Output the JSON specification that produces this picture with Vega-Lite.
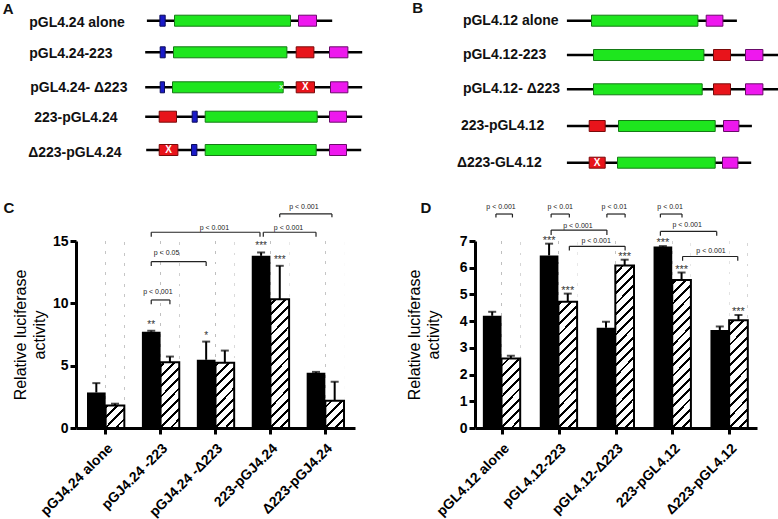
{
  "$schema": "https://vega.github.io/schema/vega-lite/v6.json",
  "padding": {"left": 2, "top": 0, "right": 0, "bottom": 0},
  "background": "white",
  "config": {"view": {"stroke": null}, "font": "Liberation Sans", "axis": {"grid": false, "labelOverlap": false}},
  "datasets": {
    "dlines": [
      {"x1": 145.7, "x2": 331, "y": 20.7}, {"x1": 144, "x2": 361, "y": 52.3}, {"x1": 144, "x2": 361, "y": 87.3},
      {"x1": 144, "x2": 361, "y": 116.7}, {"x1": 145, "x2": 360, "y": 150},
      {"x1": 565.7, "x2": 735.7, "y": 20.7}, {"x1": 565.7, "x2": 777, "y": 55}, {"x1": 565.7, "x2": 777, "y": 89.3},
      {"x1": 565.7, "x2": 750.7, "y": 126}, {"x1": 565.7, "x2": 750, "y": 162.7}
    ],
    "dboxes": [
      {"part": "blue", "x1": 158.7, "x2": 164, "y": 20.7}, {"part": "green", "x1": 173.3, "x2": 289.3, "y": 20.7}, {"part": "magenta", "x1": 297.3, "x2": 315.3, "y": 20.7},
      {"part": "blue", "x1": 159, "x2": 164, "y": 52.3}, {"part": "green", "x1": 172.3, "x2": 285.7, "y": 52.3}, {"part": "red", "x1": 295, "x2": 312.7, "y": 52.3}, {"part": "magenta", "x1": 328.3, "x2": 346.7, "y": 52.3},
      {"part": "blue", "x1": 159, "x2": 163.3, "y": 87.3}, {"part": "green", "x1": 171.3, "x2": 282, "y": 87.3}, {"part": "red", "x1": 295, "x2": 313.3, "y": 87.3}, {"part": "magenta", "x1": 329.3, "x2": 346.7, "y": 87.3},
      {"part": "red", "x1": 158, "x2": 175.3, "y": 116.7}, {"part": "blue", "x1": 191, "x2": 196, "y": 116.7}, {"part": "green", "x1": 204, "x2": 316, "y": 116.7}, {"part": "magenta", "x1": 328.3, "x2": 345.3, "y": 116.7},
      {"part": "red", "x1": 158, "x2": 176.7, "y": 150}, {"part": "blue", "x1": 190.3, "x2": 195.7, "y": 150}, {"part": "green", "x1": 204, "x2": 315, "y": 150}, {"part": "magenta", "x1": 328.3, "x2": 345.3, "y": 150},
      {"part": "green", "x1": 590.3, "x2": 696.7, "y": 20.7}, {"part": "magenta", "x1": 705, "x2": 721.7, "y": 20.7},
      {"part": "green", "x1": 592.3, "x2": 702.7, "y": 55}, {"part": "red", "x1": 712.3, "x2": 729.3, "y": 55}, {"part": "magenta", "x1": 744.3, "x2": 761.7, "y": 55},
      {"part": "green", "x1": 592.3, "x2": 701, "y": 89.3}, {"part": "red", "x1": 712.3, "x2": 729.3, "y": 89.3}, {"part": "magenta", "x1": 744.3, "x2": 761.7, "y": 89.3},
      {"part": "red", "x1": 588, "x2": 604, "y": 126}, {"part": "green", "x1": 617.3, "x2": 714, "y": 126}, {"part": "magenta", "x1": 722.3, "x2": 737.7, "y": 126},
      {"part": "red", "x1": 588, "x2": 604, "y": 162.7}, {"part": "green", "x1": 616.3, "x2": 714, "y": 162.7}, {"part": "magenta", "x1": 721.3, "x2": 736.7, "y": 162.7}
    ],
    "dlabels": [
      {"t": "pGL4.24 alone", "x": 28, "y": 22.7}, {"t": "pGL4.24-223", "x": 28, "y": 54.3}, {"t": "pGL4.24- Δ223", "x": 29, "y": 88.3},
      {"t": "223-pGL4.24", "x": 33, "y": 118.3}, {"t": "Δ223-pGL4.24", "x": 27, "y": 153.3},
      {"t": "pGL4.12 alone", "x": 461.7, "y": 20.7}, {"t": "pGL4.12-223", "x": 461.7, "y": 55}, {"t": "pGL4.12- Δ223", "x": 461.7, "y": 89.3},
      {"t": "223-pGL4.12", "x": 459.7, "y": 126}, {"t": "Δ223-GL4.12", "x": 455.7, "y": 162.7}
    ],
    "dletters": [{"t": "A", "x": 7, "y": 9}, {"t": "B", "x": 416.5, "y": 8}],
    "dmarks": [{"t": "X", "x": 304.2, "y": 87.3}, {"t": "X", "x": 167.4, "y": 150}, {"t": "X", "x": 596, "y": 162.7}],
    "dsmall": [{"t": "x", "x": 280, "y": 87.3}],
    "cbars": [
      {"cond": "pGJ4.24 alone", "type": "black", "mean": 2.85, "err": 3.6},
      {"cond": "pGJ4.24 alone", "type": "hatched", "mean": 1.8, "err": 1.95},
      {"cond": "pGJ4.24 -223", "type": "black", "mean": 7.73, "err": 7.8, "sig": "**"},
      {"cond": "pGJ4.24 -223", "type": "hatched", "mean": 5.28, "err": 5.73},
      {"cond": "pGJ4.24 -Δ223", "type": "black", "mean": 5.47, "err": 6.93, "sig": "*"},
      {"cond": "pGJ4.24 -Δ223", "type": "hatched", "mean": 5.23, "err": 6.21},
      {"cond": "223-pGJ4.24", "type": "black", "mean": 13.81, "err": 14.08, "sig": "***"},
      {"cond": "223-pGJ4.24", "type": "hatched", "mean": 10.32, "err": 13.01, "sig": "***"},
      {"cond": "Δ223-pGJ4.24", "type": "black", "mean": 4.43, "err": 4.5},
      {"cond": "Δ223-pGJ4.24", "type": "hatched", "mean": 2.19, "err": 3.71}
    ],
    "cbr": [
      {"x1": 1.83, "x2": 2.17, "y": 10.27, "leg": 9.92, "label": "p < 0.001", "lx": 1.95, "ly": 10.91},
      {"x1": 1.83, "x2": 2.83, "y": 13.34, "leg": 12.99, "label": "p < 0.05", "lx": 2.11, "ly": 14.01},
      {"x1": 1.83, "x2": 3.81, "y": 15.7, "leg": 15.34, "label": "p < 0.001", "lx": 2.98, "ly": 16.02},
      {"x1": 3.87, "x2": 4.83, "y": 15.7, "leg": 15.34, "label": "p < 0.001", "lx": 4.33, "ly": 16.02},
      {"x1": 4.17, "x2": 5.12, "y": 17.17, "leg": 16.9, "label": "p < 0.001", "lx": 4.61, "ly": 17.75}
    ],
    "dbars": [
      {"cond": "pGL4.12 alone", "type": "black", "mean": 4.2, "err": 4.35},
      {"cond": "pGL4.12 alone", "type": "hatched", "mean": 2.6, "err": 2.7},
      {"cond": "pGL4.12-223", "type": "black", "mean": 6.46, "err": 6.9, "sig": "***"},
      {"cond": "pGL4.12-223", "type": "hatched", "mean": 4.73, "err": 5.03, "sig": "***"},
      {"cond": "pGL4.12-Δ223", "type": "black", "mean": 3.75, "err": 3.98},
      {"cond": "pGL4.12-Δ223", "type": "hatched", "mean": 6.08, "err": 6.3, "sig": "***"},
      {"cond": "223-pGL4.12", "type": "black", "mean": 6.79, "err": 6.81, "sig": "***"},
      {"cond": "223-pGL4.12", "type": "hatched", "mean": 5.54, "err": 5.82, "sig": "***"},
      {"cond": "Δ223-pGL4.12", "type": "black", "mean": 3.67, "err": 3.8},
      {"cond": "Δ223-pGL4.12", "type": "hatched", "mean": 4.03, "err": 4.23, "sig": "***"}
    ],
    "dbr": [
      {"x1": 0.89, "x2": 1.18, "y": 8.01, "leg": 7.88, "label": "p < 0.001", "lx": 0.98, "ly": 8.26},
      {"x1": 1.86, "x2": 2.18, "y": 8.01, "leg": 7.88, "label": "p < 0.01", "lx": 2.02, "ly": 8.26},
      {"x1": 2.84, "x2": 3.16, "y": 8.01, "leg": 7.88, "label": "p < 0.01", "lx": 2.97, "ly": 8.26},
      {"x1": 3.78, "x2": 4.16, "y": 8.01, "leg": 7.88, "label": "p < 0.01", "lx": 3.95, "ly": 8.26},
      {"x1": 1.86, "x2": 2.84, "y": 7.41, "leg": 7.22, "label": "p < 0.001", "lx": 2.33, "ly": 7.57},
      {"x1": 2.18, "x2": 3.16, "y": 6.8, "leg": 6.64, "label": "p < 0.001", "lx": 2.65, "ly": 6.99},
      {"x1": 3.78, "x2": 4.77, "y": 7.36, "leg": 7.2, "label": "p < 0.001", "lx": 4.25, "ly": 7.6},
      {"x1": 4.17, "x2": 5.14, "y": 6.42, "leg": 6.26, "label": "p < 0.001", "lx": 4.67, "ly": 6.64}
    ]
  },
  "spacing": 0,
  "vconcat": [
    {
      "width": 703,
      "height": 200,
      "layer": [
        {
          "data": {"name": "dlines"},
          "mark": {"type": "rule", "strokeWidth": 2.5, "color": "black"},
          "encoding": {
            "x": {"field": "x1", "type": "quantitative", "scale": {"domain": [74.8, 777.8], "nice": false, "zero": false}, "axis": null},
            "x2": {"field": "x2"},
            "y": {"field": "y", "type": "quantitative", "scale": {"domain": [0, 200], "reverse": true, "nice": false, "zero": false}, "axis": null}
          }
        },
        {
          "data": {"name": "dboxes"},
          "mark": {"type": "rect", "height": 11, "strokeWidth": 1},
          "encoding": {
            "x": {"field": "x1", "type": "quantitative", "axis": null},
            "x2": {"field": "x2"},
            "y": {"field": "y", "type": "quantitative", "axis": null},
            "fill": {"field": "part", "type": "nominal", "legend": null, "scale": {"domain": ["blue", "green", "red", "magenta"], "range": ["#1a1ac8", "#1ee61e", "#e8141b", "#ee18ee"]}},
            "stroke": {"field": "part", "type": "nominal", "legend": null, "scale": {"domain": ["blue", "green", "red", "magenta"], "range": ["#0a0a5a", "#157a15", "#7a0a0a", "#6a0a6a"]}}
          }
        },
        {
          "data": {"name": "dlabels"},
          "mark": {"type": "text", "align": "left", "baseline": "middle", "fontSize": 14, "fontWeight": "bold", "color": "#111"},
          "encoding": {"x": {"field": "x", "type": "quantitative", "axis": null}, "y": {"field": "y", "type": "quantitative", "axis": null}, "text": {"field": "t"}}
        },
        {
          "data": {"name": "dletters"},
          "mark": {"type": "text", "align": "center", "baseline": "middle", "fontSize": 15, "fontWeight": "bold", "color": "#111"},
          "encoding": {"x": {"field": "x", "type": "quantitative", "axis": null}, "y": {"field": "y", "type": "quantitative", "axis": null}, "text": {"field": "t"}}
        },
        {
          "data": {"name": "dmarks"},
          "mark": {"type": "text", "align": "center", "baseline": "middle", "fontSize": 10, "fontWeight": "bold", "color": "white"},
          "encoding": {"x": {"field": "x", "type": "quantitative", "axis": null}, "y": {"field": "y", "type": "quantitative", "axis": null}, "text": {"field": "t"}}
        },
        {
          "data": {"name": "dsmall"},
          "mark": {"type": "text", "align": "center", "baseline": "middle", "fontSize": 8, "color": "white"},
          "encoding": {"x": {"field": "x", "type": "quantitative", "axis": null}, "y": {"field": "y", "type": "quantitative", "axis": null}, "text": {"field": "t"}}
        }
      ]
    },
    {
      "spacing": 51,
      "hconcat": [
        {
          "width": 279,
          "height": 187,
          "layer": [
            {
              "data": {"name": "cbars"},
              "encoding": {
                "x": {"field": "cond", "type": "nominal", "sort": null, "scale": {"paddingInner": 0.32, "paddingOuter": 0.2},
                  "axis": {"title": null, "labelAngle": -45, "labelFontSize": 14, "labelFontWeight": "bold", "labelPadding": 7, "labelLimit": 300, "tickSize": 6, "tickWidth": 3, "domainWidth": 3, "domainColor": "black", "tickColor": "black", "labelColor": "black"}},
                "xOffset": {"field": "type", "type": "nominal", "scale": {"domain": ["black", "hatched"]}}
              },
              "layer": [
                {
                  "transform": [{"filter": "datum.type === 'hatched'"}],
                  "mark": {"type": "bar", "fill": {"gradient": "linear", "x1": 0, "y1": 0, "x2": 0.1108, "y2": 1.0903, "stops": [
                    {"offset": 0, "color": "black"}, {"offset": 0.014, "color": "black"}, {"offset": 0.014, "color": "white"}, {"offset": 0.05, "color": "white"},
                    {"offset": 0.05, "color": "black"}, {"offset": 0.064, "color": "black"}, {"offset": 0.064, "color": "white"}, {"offset": 0.1, "color": "white"},
                    {"offset": 0.1, "color": "black"}, {"offset": 0.114, "color": "black"}, {"offset": 0.114, "color": "white"}, {"offset": 0.15, "color": "white"},
                    {"offset": 0.15, "color": "black"}, {"offset": 0.164, "color": "black"}, {"offset": 0.164, "color": "white"}, {"offset": 0.2, "color": "white"},
                    {"offset": 0.2, "color": "black"}, {"offset": 0.214, "color": "black"}, {"offset": 0.214, "color": "white"}, {"offset": 0.25, "color": "white"},
                    {"offset": 0.25, "color": "black"}, {"offset": 0.264, "color": "black"}, {"offset": 0.264, "color": "white"}, {"offset": 0.3, "color": "white"},
                    {"offset": 0.3, "color": "black"}, {"offset": 0.314, "color": "black"}, {"offset": 0.314, "color": "white"}, {"offset": 0.35, "color": "white"},
                    {"offset": 0.35, "color": "black"}, {"offset": 0.364, "color": "black"}, {"offset": 0.364, "color": "white"}, {"offset": 0.4, "color": "white"},
                    {"offset": 0.4, "color": "black"}, {"offset": 0.414, "color": "black"}, {"offset": 0.414, "color": "white"}, {"offset": 0.45, "color": "white"},
                    {"offset": 0.45, "color": "black"}, {"offset": 0.464, "color": "black"}, {"offset": 0.464, "color": "white"}, {"offset": 0.5, "color": "white"},
                    {"offset": 0.5, "color": "black"}, {"offset": 0.514, "color": "black"}, {"offset": 0.514, "color": "white"}, {"offset": 0.55, "color": "white"},
                    {"offset": 0.55, "color": "black"}, {"offset": 0.564, "color": "black"}, {"offset": 0.564, "color": "white"}, {"offset": 0.6, "color": "white"},
                    {"offset": 0.6, "color": "black"}, {"offset": 0.614, "color": "black"}, {"offset": 0.614, "color": "white"}, {"offset": 0.65, "color": "white"},
                    {"offset": 0.65, "color": "black"}, {"offset": 0.664, "color": "black"}, {"offset": 0.664, "color": "white"}, {"offset": 0.7, "color": "white"},
                    {"offset": 0.7, "color": "black"}, {"offset": 0.714, "color": "black"}, {"offset": 0.714, "color": "white"}, {"offset": 0.75, "color": "white"},
                    {"offset": 0.75, "color": "black"}, {"offset": 0.764, "color": "black"}, {"offset": 0.764, "color": "white"}, {"offset": 0.8, "color": "white"},
                    {"offset": 0.8, "color": "black"}, {"offset": 0.814, "color": "black"}, {"offset": 0.814, "color": "white"}, {"offset": 0.85, "color": "white"},
                    {"offset": 0.85, "color": "black"}, {"offset": 0.864, "color": "black"}, {"offset": 0.864, "color": "white"}, {"offset": 0.9, "color": "white"},
                    {"offset": 0.9, "color": "black"}, {"offset": 0.914, "color": "black"}, {"offset": 0.914, "color": "white"}, {"offset": 0.95, "color": "white"},
                    {"offset": 0.95, "color": "black"}, {"offset": 0.964, "color": "black"}, {"offset": 0.964, "color": "white"}, {"offset": 1, "color": "white"}
                  ]}},
                  "encoding": {
                    "y": {"datum": 15, "type": "quantitative", "scale": {"domain": [0, 15], "nice": false},
                      "axis": {"values": [0, 5, 10, 15], "title": ["Relative luciferase", "activity"], "titleFontSize": 16, "titleFontWeight": "normal", "titleColor": "black", "titleLineHeight": 19, "titlePadding": 5, "labelFontSize": 14, "labelFontWeight": "bold", "labelColor": "black", "labelPadding": 2, "labelOverlap": false, "tickSize": 6, "tickWidth": 3, "domainWidth": 3, "domainColor": "black", "tickColor": "black"}},
                    "y2": {"datum": 0}
                  }
                },
                {
                  "transform": [{"filter": "datum.type === 'hatched'"}],
                  "mark": {"type": "bar", "fill": "white"},
                  "encoding": {"y": {"field": "mean", "type": "quantitative"}, "y2": {"datum": 15}}
                },
                {
                  "transform": [{"filter": "datum.type === 'hatched'"}],
                  "mark": {"type": "bar", "fillOpacity": 0, "stroke": "black", "strokeWidth": 2},
                  "encoding": {"y": {"field": "mean", "type": "quantitative"}}
                },
                {
                  "transform": [{"filter": "datum.type === 'black'"}],
                  "mark": {"type": "bar", "fill": "black"},
                  "encoding": {"y": {"field": "mean", "type": "quantitative"}}
                },
                {
                  "mark": {"type": "rule", "strokeWidth": 2, "color": "black"},
                  "encoding": {"y": {"field": "mean", "type": "quantitative"}, "y2": {"field": "err"}}
                },
                {
                  "mark": {"type": "tick", "size": 8, "thickness": 2, "color": "black"},
                  "encoding": {"y": {"field": "err", "type": "quantitative"}}
                },
                {
                  "transform": [{"filter": "datum.sig"}],
                  "mark": {"type": "text", "fontSize": 10, "dy": -3, "baseline": "alphabetic", "color": "#333"},
                  "encoding": {"y": {"field": "err", "type": "quantitative"}, "text": {"field": "sig"}}
                }
              ]
            },
            {
              "layer": [
                {
                  "data": {"name": "cbr"},
                  "mark": {"type": "rule", "strokeWidth": 1.2, "color": "#222"},
                  "encoding": {
                    "x": {"field": "x1", "type": "quantitative", "scale": {"domain": [0.46, 5.54], "nice": false, "zero": false}, "axis": null},
                    "x2": {"field": "x2"},
                    "y": {"field": "y", "type": "quantitative"}
                  }
                },
                {
                  "data": {"name": "cbr"},
                  "mark": {"type": "rule", "strokeWidth": 1.2, "color": "#222"},
                  "encoding": {"x": {"field": "x1", "type": "quantitative", "axis": null}, "y": {"field": "y", "type": "quantitative"}, "y2": {"field": "leg"}}
                },
                {
                  "data": {"name": "cbr"},
                  "mark": {"type": "rule", "strokeWidth": 1.2, "color": "#222"},
                  "encoding": {"x": {"field": "x2", "type": "quantitative", "axis": null}, "y": {"field": "y", "type": "quantitative"}, "y2": {"field": "leg"}}
                },
                {
                  "data": {"name": "cbr"},
                  "mark": {"type": "text", "fontSize": 7, "baseline": "middle", "color": "#222"},
                  "encoding": {"x": {"field": "lx", "type": "quantitative", "axis": null}, "y": {"field": "ly", "type": "quantitative"}, "text": {"field": "label"}}
                },
                {
                  "data": {"values": [{"t": "C", "lx": -0.76, "ly": 17.65}]},
                  "mark": {"type": "text", "fontSize": 15, "fontWeight": "bold", "baseline": "middle", "color": "#111"},
                  "encoding": {"x": {"field": "lx", "type": "quantitative", "axis": null}, "y": {"field": "ly", "type": "quantitative"}, "text": {"field": "t"}}
                }
              ]
            }
          ],
          "resolve": {"scale": {"x": "independent"}}
        },
        {
          "width": 282,
          "height": 187,
          "layer": [
            {
              "data": {"name": "dbars"},
              "encoding": {
                "x": {"field": "cond", "type": "nominal", "sort": null, "scale": {"paddingInner": 0.32, "paddingOuter": 0.138},
                  "axis": {"title": null, "labelAngle": -45, "labelFontSize": 14, "labelFontWeight": "bold", "labelPadding": 7, "labelLimit": 300, "tickSize": 6, "tickWidth": 3, "domainWidth": 3, "domainColor": "black", "tickColor": "black", "labelColor": "black"}},
                "xOffset": {"field": "type", "type": "nominal", "scale": {"domain": ["black", "hatched"]}}
              },
              "layer": [
                {
                  "transform": [{"filter": "datum.type === 'hatched'"}],
                  "mark": {"type": "bar", "fill": {"gradient": "linear", "x1": 0, "y1": 0, "x2": 0.1108, "y2": 1.0903, "stops": [
                    {"offset": 0, "color": "black"}, {"offset": 0.014, "color": "black"}, {"offset": 0.014, "color": "white"}, {"offset": 0.05, "color": "white"},
                    {"offset": 0.05, "color": "black"}, {"offset": 0.064, "color": "black"}, {"offset": 0.064, "color": "white"}, {"offset": 0.1, "color": "white"},
                    {"offset": 0.1, "color": "black"}, {"offset": 0.114, "color": "black"}, {"offset": 0.114, "color": "white"}, {"offset": 0.15, "color": "white"},
                    {"offset": 0.15, "color": "black"}, {"offset": 0.164, "color": "black"}, {"offset": 0.164, "color": "white"}, {"offset": 0.2, "color": "white"},
                    {"offset": 0.2, "color": "black"}, {"offset": 0.214, "color": "black"}, {"offset": 0.214, "color": "white"}, {"offset": 0.25, "color": "white"},
                    {"offset": 0.25, "color": "black"}, {"offset": 0.264, "color": "black"}, {"offset": 0.264, "color": "white"}, {"offset": 0.3, "color": "white"},
                    {"offset": 0.3, "color": "black"}, {"offset": 0.314, "color": "black"}, {"offset": 0.314, "color": "white"}, {"offset": 0.35, "color": "white"},
                    {"offset": 0.35, "color": "black"}, {"offset": 0.364, "color": "black"}, {"offset": 0.364, "color": "white"}, {"offset": 0.4, "color": "white"},
                    {"offset": 0.4, "color": "black"}, {"offset": 0.414, "color": "black"}, {"offset": 0.414, "color": "white"}, {"offset": 0.45, "color": "white"},
                    {"offset": 0.45, "color": "black"}, {"offset": 0.464, "color": "black"}, {"offset": 0.464, "color": "white"}, {"offset": 0.5, "color": "white"},
                    {"offset": 0.5, "color": "black"}, {"offset": 0.514, "color": "black"}, {"offset": 0.514, "color": "white"}, {"offset": 0.55, "color": "white"},
                    {"offset": 0.55, "color": "black"}, {"offset": 0.564, "color": "black"}, {"offset": 0.564, "color": "white"}, {"offset": 0.6, "color": "white"},
                    {"offset": 0.6, "color": "black"}, {"offset": 0.614, "color": "black"}, {"offset": 0.614, "color": "white"}, {"offset": 0.65, "color": "white"},
                    {"offset": 0.65, "color": "black"}, {"offset": 0.664, "color": "black"}, {"offset": 0.664, "color": "white"}, {"offset": 0.7, "color": "white"},
                    {"offset": 0.7, "color": "black"}, {"offset": 0.714, "color": "black"}, {"offset": 0.714, "color": "white"}, {"offset": 0.75, "color": "white"},
                    {"offset": 0.75, "color": "black"}, {"offset": 0.764, "color": "black"}, {"offset": 0.764, "color": "white"}, {"offset": 0.8, "color": "white"},
                    {"offset": 0.8, "color": "black"}, {"offset": 0.814, "color": "black"}, {"offset": 0.814, "color": "white"}, {"offset": 0.85, "color": "white"},
                    {"offset": 0.85, "color": "black"}, {"offset": 0.864, "color": "black"}, {"offset": 0.864, "color": "white"}, {"offset": 0.9, "color": "white"},
                    {"offset": 0.9, "color": "black"}, {"offset": 0.914, "color": "black"}, {"offset": 0.914, "color": "white"}, {"offset": 0.95, "color": "white"},
                    {"offset": 0.95, "color": "black"}, {"offset": 0.964, "color": "black"}, {"offset": 0.964, "color": "white"}, {"offset": 1, "color": "white"}
                  ]}},
                  "encoding": {
                    "y": {"datum": 7, "type": "quantitative", "scale": {"domain": [0, 7], "nice": false},
                      "axis": {"values": [0, 1, 2, 3, 4, 5, 6, 7], "tickCount": 8, "title": ["Relative luciferase", "activity"], "titleFontSize": 16, "titleFontWeight": "normal", "titleColor": "black", "titleLineHeight": 19, "titlePadding": 18, "labelFontSize": 14, "labelFontWeight": "bold", "labelColor": "black", "labelPadding": 2, "labelOverlap": false, "tickSize": 6, "tickWidth": 3, "domainWidth": 3, "domainColor": "black", "tickColor": "black"}},
                    "y2": {"datum": 0}
                  }
                },
                {
                  "transform": [{"filter": "datum.type === 'hatched'"}],
                  "mark": {"type": "bar", "fill": "white"},
                  "encoding": {"y": {"field": "mean", "type": "quantitative", "axis": {"values": [0, 1, 2, 3, 4, 5, 6, 7], "tickCount": 8, "labelOverlap": false}}, "y2": {"datum": 7}}
                },
                {
                  "transform": [{"filter": "datum.type === 'hatched'"}],
                  "mark": {"type": "bar", "fillOpacity": 0, "stroke": "black", "strokeWidth": 2},
                  "encoding": {"y": {"field": "mean", "type": "quantitative", "axis": {"values": [0, 1, 2, 3, 4, 5, 6, 7], "tickCount": 8, "labelOverlap": false}}}
                },
                {
                  "transform": [{"filter": "datum.type === 'black'"}],
                  "mark": {"type": "bar", "fill": "black"},
                  "encoding": {"y": {"field": "mean", "type": "quantitative", "axis": {"values": [0, 1, 2, 3, 4, 5, 6, 7], "tickCount": 8, "labelOverlap": false}}}
                },
                {
                  "mark": {"type": "rule", "strokeWidth": 2, "color": "black"},
                  "encoding": {"y": {"field": "mean", "type": "quantitative", "axis": {"values": [0, 1, 2, 3, 4, 5, 6, 7], "tickCount": 8, "labelOverlap": false}}, "y2": {"field": "err"}}
                },
                {
                  "mark": {"type": "tick", "size": 8, "thickness": 2, "color": "black"},
                  "encoding": {"y": {"field": "err", "type": "quantitative", "axis": {"values": [0, 1, 2, 3, 4, 5, 6, 7], "tickCount": 8, "labelOverlap": false}}}
                },
                {
                  "transform": [{"filter": "datum.sig"}],
                  "mark": {"type": "text", "fontSize": 11, "dy": 0, "baseline": "alphabetic", "color": "#333"},
                  "encoding": {"y": {"field": "err", "type": "quantitative", "axis": {"values": [0, 1, 2, 3, 4, 5, 6, 7], "tickCount": 8, "labelOverlap": false}}, "text": {"field": "sig"}}
                }
              ]
            },
            {
              "layer": [
                {
                  "data": {"name": "dbr"},
                  "mark": {"type": "rule", "strokeWidth": 1.2, "color": "#222"},
                  "encoding": {
                    "x": {"field": "x1", "type": "quantitative", "scale": {"domain": [0.522, 5.478], "nice": false, "zero": false}, "axis": null},
                    "x2": {"field": "x2"},
                    "y": {"field": "y", "type": "quantitative", "axis": {"values": [0, 1, 2, 3, 4, 5, 6, 7], "tickCount": 8, "labelOverlap": false}}
                  }
                },
                {
                  "data": {"name": "dbr"},
                  "mark": {"type": "rule", "strokeWidth": 1.2, "color": "#222"},
                  "encoding": {"x": {"field": "x1", "type": "quantitative", "axis": null}, "y": {"field": "y", "type": "quantitative", "axis": {"values": [0, 1, 2, 3, 4, 5, 6, 7], "tickCount": 8, "labelOverlap": false}}, "y2": {"field": "leg"}}
                },
                {
                  "data": {"name": "dbr"},
                  "mark": {"type": "rule", "strokeWidth": 1.2, "color": "#222"},
                  "encoding": {"x": {"field": "x2", "type": "quantitative", "axis": null}, "y": {"field": "y", "type": "quantitative", "axis": {"values": [0, 1, 2, 3, 4, 5, 6, 7], "tickCount": 8, "labelOverlap": false}}, "y2": {"field": "leg"}}
                },
                {
                  "data": {"name": "dbr"},
                  "mark": {"type": "text", "fontSize": 7, "baseline": "middle", "color": "#222"},
                  "encoding": {"x": {"field": "lx", "type": "quantitative", "axis": null}, "y": {"field": "ly", "type": "quantitative", "axis": {"values": [0, 1, 2, 3, 4, 5, 6, 7], "tickCount": 8, "labelOverlap": false}}, "text": {"field": "label"}}
                },
                {
                  "data": {"values": [{"t": "D", "lx": -0.339, "ly": 8.236}]},
                  "mark": {"type": "text", "fontSize": 15, "fontWeight": "bold", "baseline": "middle", "color": "#111"},
                  "encoding": {"x": {"field": "lx", "type": "quantitative", "axis": null}, "y": {"field": "ly", "type": "quantitative", "axis": {"values": [0, 1, 2, 3, 4, 5, 6, 7], "tickCount": 8, "labelOverlap": false}}, "text": {"field": "t"}}
                }
              ]
            }
          ],
          "resolve": {"scale": {"x": "independent"}}
        }
      ]
    }
  ]
}
